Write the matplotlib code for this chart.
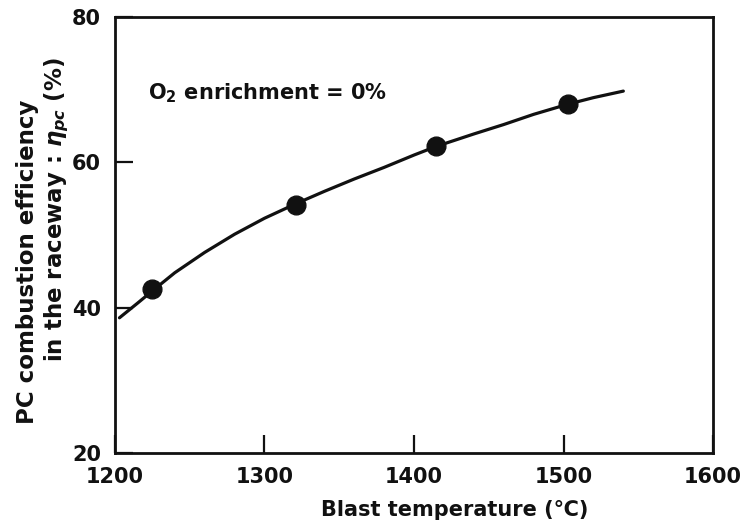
import matplotlib
matplotlib.use("Agg")
import matplotlib.pyplot as plt

# measured points
blast_temp = [1225, 1321, 1415, 1503]
efficiency = [42.5, 54.1, 62.3, 68.0]

# fitted curve through the points
curve_temp = [1203, 1215, 1225, 1240, 1260, 1280, 1300, 1321, 1340, 1360,
              1380, 1400, 1415, 1440, 1460, 1480, 1503, 1520, 1540]
curve_eff = [38.6, 40.6, 42.3, 44.8, 47.6, 50.1, 52.3, 54.3, 56.0, 57.7,
             59.3, 61.0, 62.2, 63.9, 65.2, 66.6, 68.0, 68.9, 69.8]

x_ticks = [1200, 1300, 1400, 1500, 1600]
y_ticks = [20, 40, 60, 80]

INK = "#111111"

plt.rcParams["font.family"] = ["DejaVu Sans"]
plt.rcParams["font.weight"] = "bold"

fig = plt.figure(figsize=(7.49, 5.31), dpi=100)
ax = fig.add_axes([0.1535, 0.147, 0.7985, 0.821])

ax.plot(curve_temp, curve_eff, color=INK, lw=2.3, solid_capstyle="round",
        solid_joinstyle="round")
ax.plot(blast_temp, efficiency, "o", color=INK, ms=13.5, mec=INK)

ax.set_xlim(1200, 1600)
ax.set_ylim(20, 80)
ax.set_xticks(x_ticks)
ax.set_yticks(y_ticks)
ax.tick_params(direction="in", length=13, width=1.6, color=INK,
               labelsize=15, pad=10, labelcolor=INK)
for lab in ax.get_xticklabels() + ax.get_yticklabels():
    lab.set_fontweight("bold")
for sp in ax.spines.values():
    sp.set_linewidth(2.0)
    sp.set_color(INK)

ax.text(1222, 69.5, r"O$_{\mathbf{2}}$ enrichment = 0%", fontsize=15,
        fontweight="bold", color=INK, va="center", ha="left")

fig.text(455 / 749, 1 - 510 / 531, "Blast temperature (℃)", fontsize=15,
         fontweight="bold", color=INK, ha="center", va="center")
fig.text(28 / 749, 1 - 262 / 531, "PC combustion efficiency", fontsize=16.5,
         fontweight="bold", color=INK, ha="center", va="center", rotation=90)
fig.text(57 / 749, 1 - 210 / 531, r"in the raceway : $\eta_{pc}$ (%)",
         fontsize=16.5, fontweight="bold", color=INK, ha="center", va="center",
         rotation=90)

fig.savefig("out.png", dpi=100, facecolor="white")
